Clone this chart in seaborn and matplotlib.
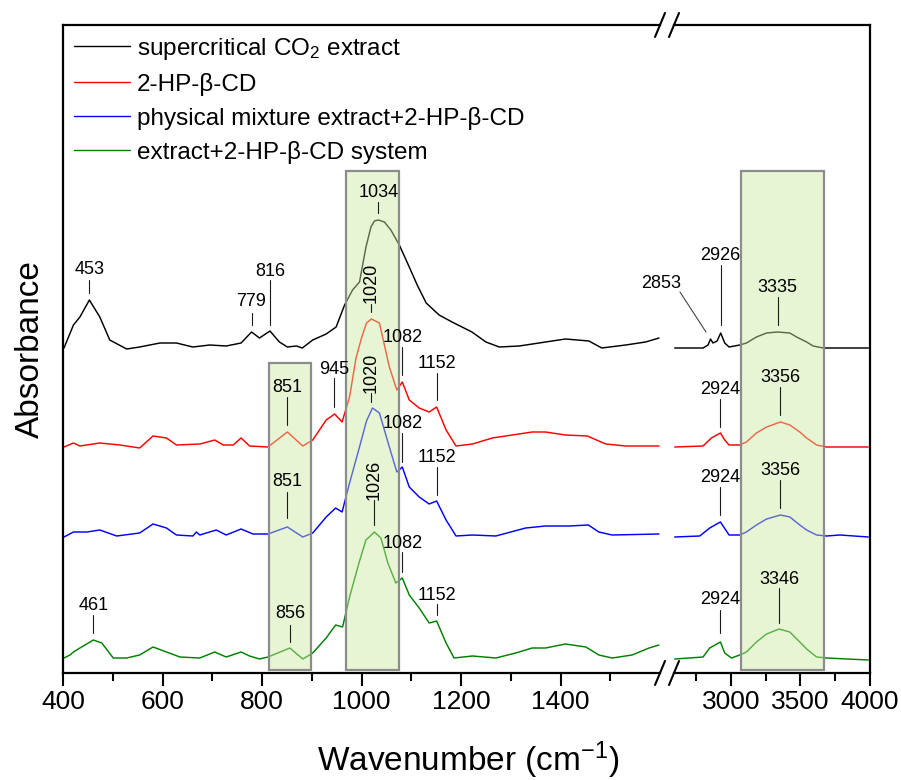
import numpy as np
import pandas as pd
import matplotlib
matplotlib.use("Agg")
import matplotlib.pyplot as plt
import seaborn as sns
from matplotlib.patches import Rectangle
from matplotlib.lines import Line2D

# ---------------- data ----------------
series_names = ["supercritical CO$_2$ extract", "2-HP-β-CD",
                "physical mixture extract+2-HP-β-CD", "extract+2-HP-β-CD system"]
series_colors = ["#000000", "#ff0000", "#0000ff", "#008000"]

# low wavenumber region (400-1600 cm-1), stacked absorbance (a.u.)
extract_low_x = [402, 421, 434, 453, 474, 494, 528, 554, 595, 628, 661, 695, 728, 758, 779, 795, 816, 835, 851, 869,
                 881, 902, 929, 949, 966, 982, 996, 1009, 1019, 1026, 1034, 1046, 1059, 1076, 1096, 1112, 1130, 1156,
                 1182, 1222, 1250, 1277, 1317, 1370, 1410, 1457, 1483, 1531, 1571, 1598]
extract_low_y = [3.25, 3.48, 3.56, 3.73, 3.56, 3.33, 3.24, 3.26, 3.30, 3.30, 3.26, 3.28, 3.27, 3.30, 3.41, 3.35, 3.42,
                 3.31, 3.26, 3.27, 3.25, 3.33, 3.39, 3.46, 3.68, 3.83, 3.91, 4.26, 4.46, 4.52, 4.53, 4.51, 4.43, 4.28,
                 4.06, 3.88, 3.70, 3.58, 3.51, 3.41, 3.31, 3.26, 3.27, 3.31, 3.34, 3.32, 3.25, 3.28, 3.31, 3.35]

hpbcd_low_x = [402, 421, 434, 474, 514, 554, 581, 608, 628, 675, 705, 722, 742, 758, 775, 812, 851, 882, 902, 929,
               946, 961, 976, 989, 1000, 1010, 1020, 1036, 1056, 1071, 1082, 1096, 1116, 1136, 1151, 1170, 1190, 1223,
               1263, 1303, 1343, 1370, 1410, 1454, 1491, 1531, 1598]
hpbcd_low_y = [2.26, 2.30, 2.27, 2.30, 2.28, 2.25, 2.37, 2.35, 2.28, 2.29, 2.33, 2.28, 2.28, 2.35, 2.27, 2.26, 2.41,
               2.27, 2.33, 2.53, 2.59, 2.51, 2.76, 3.15, 3.35, 3.50, 3.54, 3.50, 3.06, 2.83, 2.91, 2.73, 2.65, 2.61,
               2.66, 2.43, 2.27, 2.29, 2.35, 2.38, 2.41, 2.41, 2.38, 2.37, 2.29, 2.27, 2.27]

physmix_low_x = [402, 421, 448, 474, 508, 554, 581, 608, 628, 661, 668, 675, 708, 728, 758, 782, 812, 851, 882, 902,
                 929, 948, 961, 976, 996, 1010, 1022, 1036, 1056, 1071, 1082, 1096, 1116, 1136, 1151, 1170, 1190,
                 1223, 1270, 1330, 1370, 1417, 1456, 1477, 1504, 1598]
physmix_low_y = [1.36, 1.41, 1.41, 1.43, 1.37, 1.40, 1.49, 1.45, 1.38, 1.37, 1.41, 1.38, 1.43, 1.38, 1.44, 1.39, 1.39,
                 1.46, 1.36, 1.40, 1.56, 1.65, 1.61, 1.90, 2.26, 2.52, 2.65, 2.60, 2.26, 2.01, 2.06, 1.86, 1.76, 1.69,
                 1.72, 1.53, 1.37, 1.38, 1.37, 1.45, 1.47, 1.47, 1.48, 1.41, 1.38, 1.39]

system_low_x = [402, 414, 421, 434, 461, 478, 501, 528, 554, 581, 608, 635, 675, 705, 728, 758, 775, 795, 812, 856,
                882, 902, 929, 948, 962, 976, 996, 1009, 1026, 1039, 1053, 1069, 1082, 1096, 1116, 1136, 1151, 1170,
                1186, 1223, 1270, 1310, 1343, 1370, 1410, 1451, 1477, 1504, 1544, 1578, 1598]
system_low_y = [0.15, 0.18, 0.21, 0.25, 0.33, 0.30, 0.15, 0.15, 0.18, 0.26, 0.21, 0.16, 0.15, 0.21, 0.16, 0.21, 0.17,
                0.14, 0.16, 0.25, 0.14, 0.20, 0.35, 0.48, 0.46, 0.76, 1.12, 1.33, 1.41, 1.35, 1.10, 0.90, 0.95, 0.78,
                0.65, 0.50, 0.52, 0.30, 0.15, 0.17, 0.15, 0.20, 0.25, 0.25, 0.29, 0.26, 0.18, 0.15, 0.18, 0.25, 0.28]

# high wavenumber region (2600-4000 cm-1)
extract_high_x = [2595, 2799, 2835, 2853, 2870, 2900, 2926, 2955, 2986, 3063, 3111, 3183, 3256, 3335, 3423, 3472,
                  3544, 3591, 3663, 3988]
extract_high_y = [3.25, 3.25, 3.28, 3.34, 3.30, 3.32, 3.40, 3.30, 3.26, 3.28, 3.30, 3.36, 3.40, 3.41, 3.40, 3.36,
                  3.31, 3.27, 3.25, 3.25]

hpbcd_high_x = [2595, 2799, 2859, 2924, 2955, 2986, 3063, 3111, 3183, 3256, 3356, 3423, 3495, 3544, 3616, 3688, 3988]
hpbcd_high_y = [2.26, 2.27, 2.35, 2.40, 2.33, 2.28, 2.28, 2.31, 2.40, 2.46, 2.51, 2.48, 2.41, 2.35, 2.28, 2.26, 2.26]

physmix_high_x = [2595, 2775, 2847, 2924, 2986, 3063, 3111, 3183, 3256, 3356, 3423, 3495, 3544, 3616, 3688, 3784, 3988]
physmix_high_y = [1.36, 1.37, 1.45, 1.51, 1.38, 1.38, 1.41, 1.48, 1.54, 1.58, 1.56, 1.48, 1.43, 1.38, 1.37, 1.38, 1.36]

system_high_x = [2595, 2799, 2847, 2924, 2955, 3003, 3063, 3111, 3183, 3256, 3346, 3423, 3495, 3544, 3616, 3688, 3988]
system_high_y = [0.14, 0.16, 0.25, 0.31, 0.20, 0.15, 0.18, 0.21, 0.31, 0.39, 0.44, 0.41, 0.31, 0.24, 0.16, 0.15, 0.13]

low_ticks = [400, 600, 800, 1000, 1200, 1400]
low_minor = [500, 700, 900, 1100, 1300, 1500]
high_ticks = [3000, 3500, 4000]
high_minor = [2750, 3250, 3750]

# peak labels: (panel, text, wavenumber, text y, leader top, leader bottom, rotation)
peak_labels = [
    ("L", "453", 453, 4.03, 3.93, 3.80, 0),
    ("L", "779", 779, 3.71, 3.60, 3.48, 0),
    ("L", "816", 816, 4.02, 3.93, 3.48, 0),
    ("L", "1034", 1034, 4.81, 4.71, 4.60, 0),
    ("R", "2926", 2926, 4.17, 4.08, 3.48, 0),
    ("R", "3335", 3335, 3.86, 3.76, 3.48, 0),
    ("L", "1020", 1020, 3.90, 3.69, 3.61, 90),
    ("L", "945", 945, 3.03, 2.95, 2.66, 0),
    ("L", "851", 851, 2.86, 2.76, 2.48, 0),
    ("L", "1082", 1082, 3.36, 3.26, 2.98, 0),
    ("L", "1152", 1152, 3.10, 3.00, 2.73, 0),
    ("R", "2924", 2924, 2.84, 2.74, 2.46, 0),
    ("R", "3356", 3356, 2.95, 2.86, 2.58, 0),
    ("L", "1020", 1020, 3.00, 2.80, 2.71, 90),
    ("L", "1082", 1082, 2.50, 2.40, 2.11, 0),
    ("L", "1152", 1152, 2.16, 2.06, 1.78, 0),
    ("L", "851", 851, 1.91, 1.81, 1.55, 0),
    ("R", "2924", 2924, 1.95, 1.86, 1.58, 0),
    ("R", "3356", 3356, 2.03, 1.93, 1.65, 0),
    ("L", "1026", 1026, 1.93, 1.73, 1.48, 90),
    ("L", "1082", 1082, 1.30, 1.21, 1.01, 0),
    ("L", "1152", 1152, 0.78, 0.69, 0.58, 0),
    ("L", "461", 461, 0.68, 0.58, 0.40, 0),
    ("L", "856", 856, 0.59, 0.48, 0.31, 0),
    ("R", "2924", 2924, 0.73, 0.63, 0.40, 0),
    ("R", "3346", 3346, 0.94, 0.85, 0.50, 0),
]

# highlighted regions: (panel, from, to, top)
highlight_boxes = [("L", 815, 898, 3.10), ("L", 968, 1075, 5.02), ("R", 3070, 3671, 5.02)]

# ---------------- style ----------------
sns.set_style("white")
plt.rcParams["font.family"] = ["Liberation Sans", "DejaVu Sans"]
plt.rcParams["mathtext.fontset"] = "custom"
plt.rcParams["mathtext.rm"] = "Liberation Sans"
plt.rcParams["mathtext.it"] = "Liberation Sans:italic"
plt.rcParams["mathtext.bf"] = "Liberation Sans:bold"
plt.rcParams["text.color"] = "black"
plt.rcParams["axes.labelcolor"] = "black"
plt.rcParams["xtick.color"] = "black"
plt.rcParams["xtick.labelcolor"] = "black"

W, H = 901, 780
fig = plt.figure(figsize=(W / 100, H / 100), dpi=100)
fig.patch.set_facecolor("white")


def frame(x0, x1):
    return [x0 / W, 1 - 673 / H, (x1 - x0) / W, 648 / H]


axL = fig.add_axes(frame(63, 660))
axR = fig.add_axes(frame(674, 870))
axes = {"L": axL, "R": axR}

low_sets = [(extract_low_x, extract_low_y), (hpbcd_low_x, hpbcd_low_y),
            (physmix_low_x, physmix_low_y), (system_low_x, system_low_y)]
high_sets = [(extract_high_x, extract_high_y), (hpbcd_high_x, hpbcd_high_y),
             (physmix_high_x, physmix_high_y), (system_high_x, system_high_y)]

for (lx, ly), (hx, hy), col in zip(low_sets, high_sets, series_colors):
    sns.lineplot(data=pd.DataFrame({"x": lx, "y": ly}), x="x", y="y", ax=axL,
                 color=col, lw=1.05, sort=False, estimator=None, zorder=2)
    sns.lineplot(data=pd.DataFrame({"x": hx, "y": hy}), x="x", y="y", ax=axR,
                 color=col, lw=1.05, sort=False, estimator=None, zorder=2)

axL.set_xlim(400, 1600)
axR.set_xlim(2590, 4000)
for ax in (axL, axR):
    ax.set_ylim(0, 6.48)
    ax.set_yticks([])
    ax.set_xlabel("")
    ax.set_ylabel("")
    for s in ax.spines.values():
        s.set_linewidth(1.6)
        s.set_color("black")
    ax.tick_params(axis="x", which="both", bottom=True, direction="out", width=1.5,
                   colors="black", labelcolor="black")
    ax.tick_params(axis="x", which="major", length=9, labelsize=19, pad=3)
    ax.tick_params(axis="x", which="minor", length=5.5)
    ax.set_facecolor("white")
axL.spines["right"].set_visible(False)
axR.spines["left"].set_visible(False)
axL.set_xticks(low_ticks)
axL.set_xticks(low_minor, minor=True)
axR.set_xticks(high_ticks)
axR.set_xticks(high_minor, minor=True)

# highlight boxes
for pnl, x0, x1, top in highlight_boxes:
    axes[pnl].add_patch(Rectangle((x0, 0.03), x1 - x0, top - 0.03,
                                  facecolor=(0.80, 0.92, 0.63, 0.45), edgecolor="#8c8c8c",
                                  lw=1.6, zorder=3))

# peak labels
for pnl, txt, xv, ty, l0, l1, rot in peak_labels:
    ax = axes[pnl]
    ax.plot([xv, xv], [l0, l1], color="#1a1a1a", lw=0.8, zorder=5)
    ax.text(xv, ty, txt, ha="center", va="center", rotation=rot, fontsize=13,
            color="black", zorder=6)

# 2853 label with slanted leader
axR.text(2497, 3.90, "2853", ha="center", va="center", fontsize=13, color="black",
         zorder=6, clip_on=False)
axR.plot([2633, 2820], [3.81, 3.41], color="#444444", lw=0.8, zorder=5, clip_on=False)

# break marks
for xp in (660, 674):
    for yp in (673, 25):
        fig.add_artist(Line2D([(xp - 5) / W, (xp + 5) / W], [1 - (yp + 12) / H, 1 - (yp - 12) / H],
                              color="black", lw=1.5))

# legend
handles = [Line2D([0], [0], color=c, lw=1.0) for c in series_colors]
leg = axL.legend(handles, series_names, loc="upper left", bbox_to_anchor=(0.0, 1.0), frameon=False,
                 fontsize=17.5, handlelength=2.3, handletextpad=0.3, labelspacing=0.45,
                 borderaxespad=0.15, borderpad=0.3)
for t in leg.get_texts():
    t.set_color("black")

fig.text(468 / W, 1 - 760 / H, "Wavenumber (cm$^{-1}$)", ha="center", va="center", fontsize=24,
         color="black")
fig.text(30 / W, 1 - 349 / H, "Absorbance", ha="center", va="center", rotation=90, fontsize=24,
         color="black")

fig.savefig("out.png", dpi=100, facecolor="white")
